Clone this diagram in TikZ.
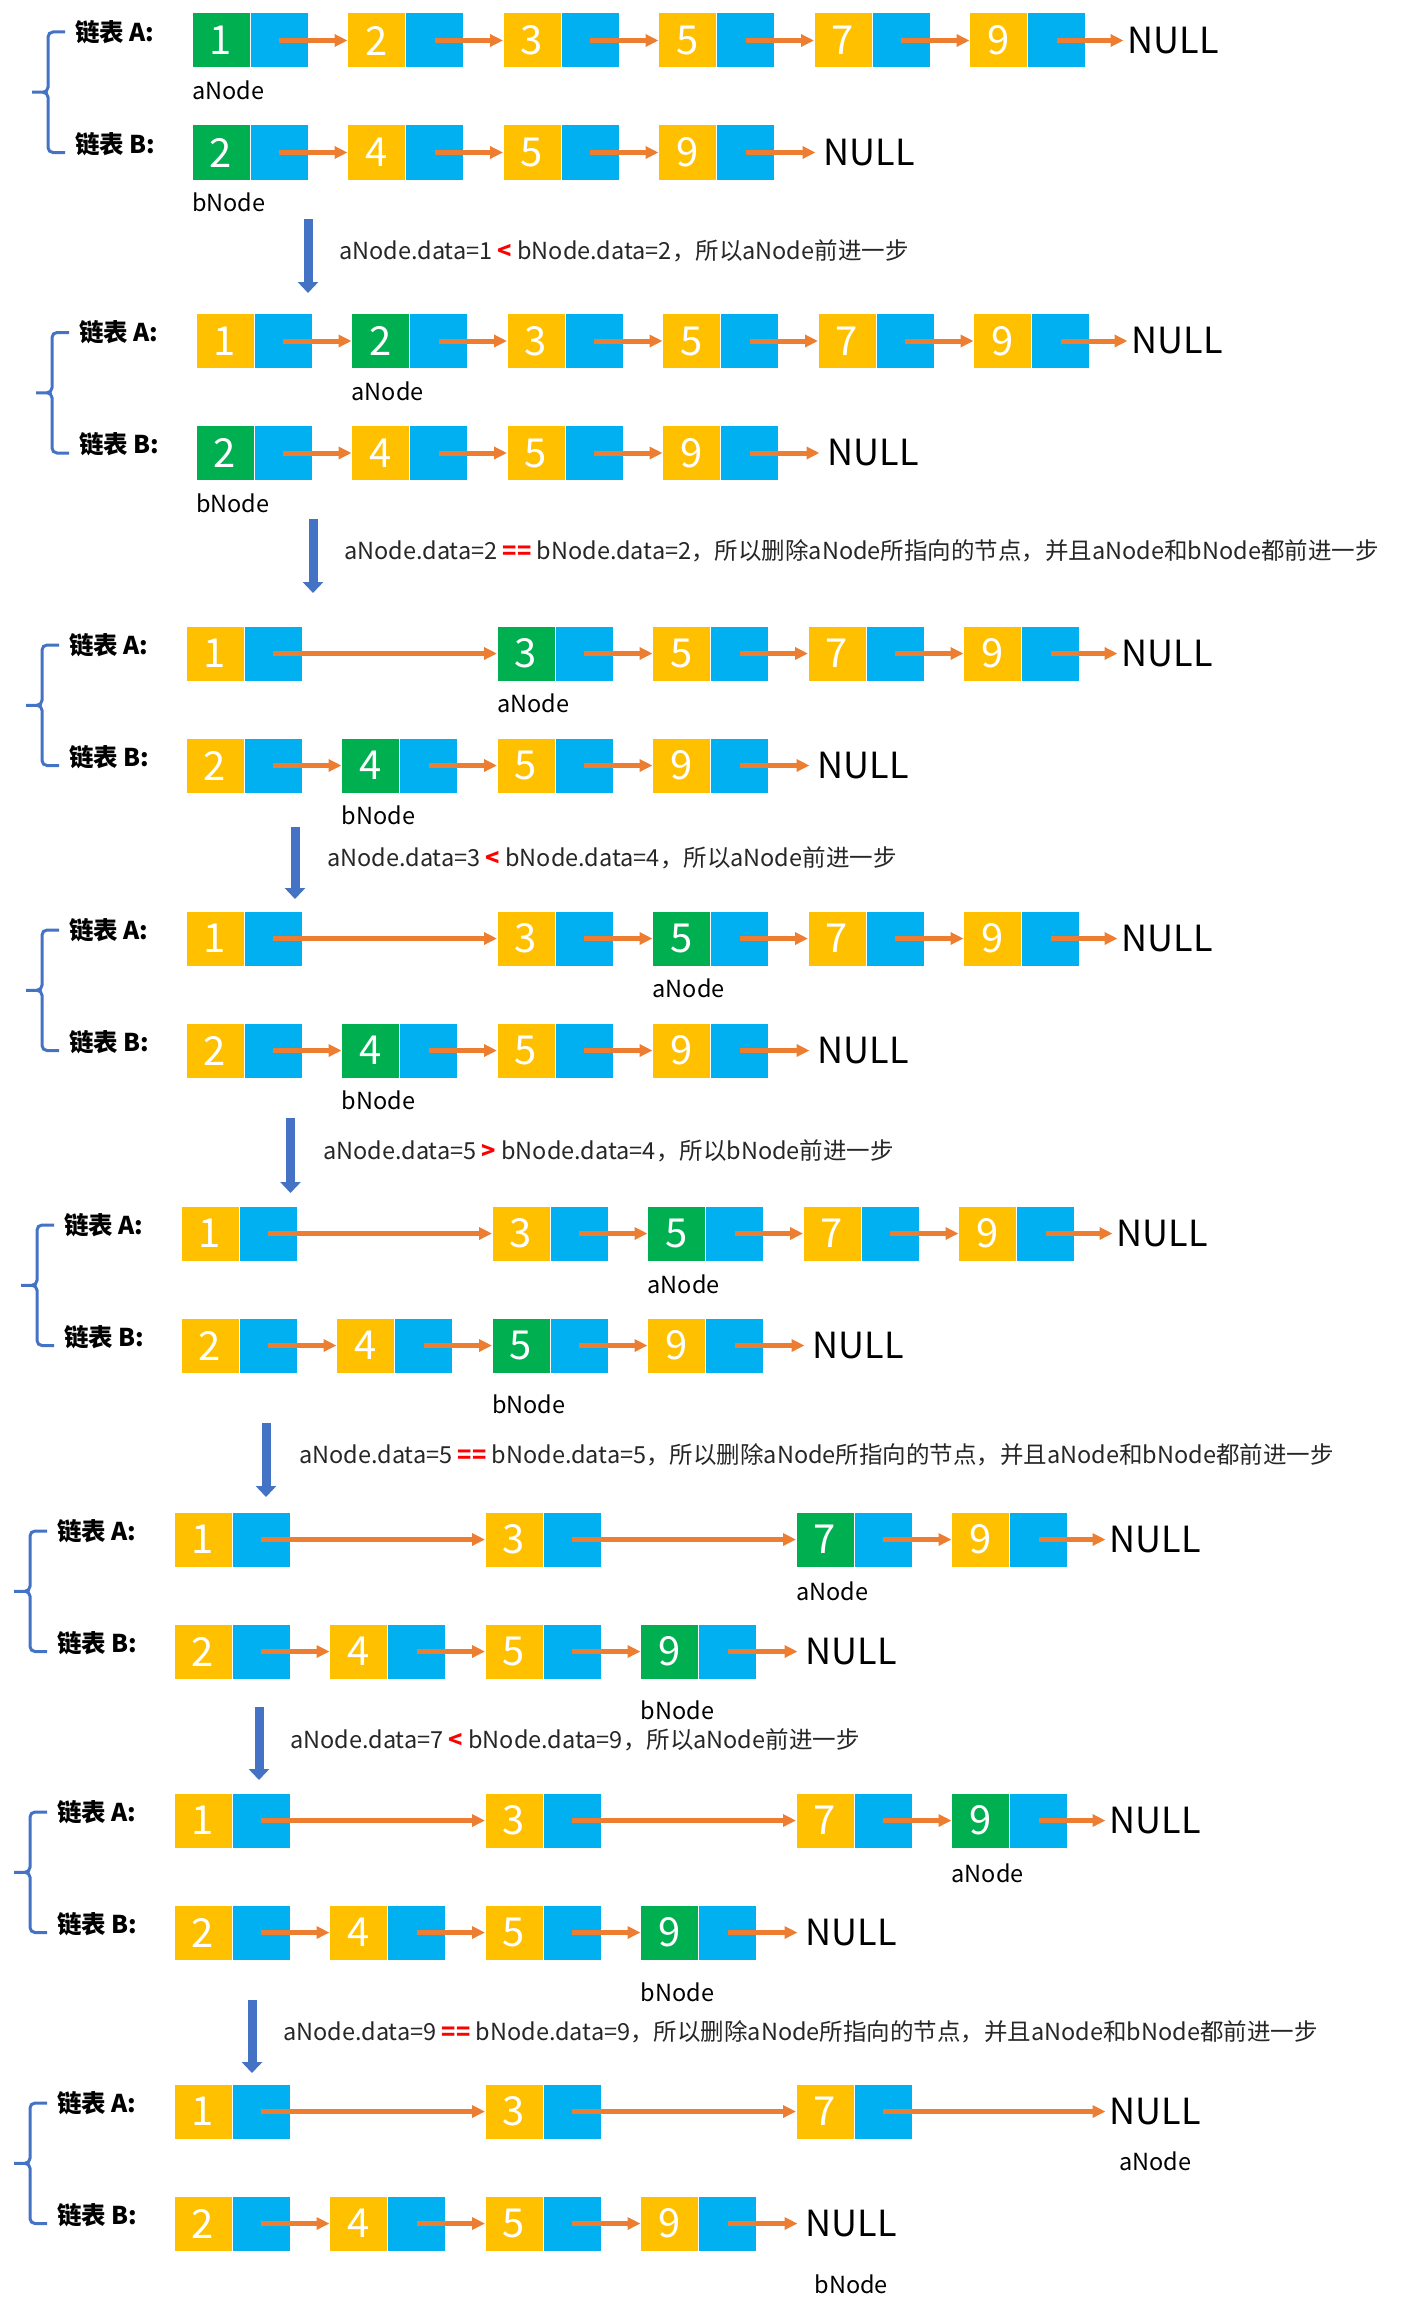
\documentclass[tikz,border=0pt]{standalone}
\usepackage{fontspec}
\setmainfont{Noto Sans CJK SC}
\usepackage{xcolor}
\usepackage{tikz}
\usetikzlibrary{arrows.meta,positioning}
\definecolor{lgreen}{RGB}{0,176,80}
\definecolor{lyellow}{RGB}{255,192,0}
\definecolor{lblue}{RGB}{0,176,240}
\definecolor{lorange}{RGB}{237,125,49}
\definecolor{sblue}{RGB}{68,114,196}

\begin{document}
\begin{tikzpicture}[x=1pt, y=-1pt,
  dat/.style={rectangle, fill=lyellow, draw=white, line width=1pt, minimum width=58pt,
              minimum height=55pt, inner sep=0pt, outer sep=0pt, text=white,
              font=\fontsize{40}{40}\selectfont},
  ptr/.style={dat, fill=lblue},
  link/.style={-{Triangle[length=13pt,width=12pt]}, line width=5pt, lorange},
  nul/.style={inner sep=0pt, font=\fontsize{36}{36}\selectfont},
  tag/.style={inner sep=0pt, font=\fontsize{23.5}{23.5}\selectfont},
  lst/.style={inner sep=0pt, anchor=west, font=\fontsize{24.5}{24.5}\selectfont\bfseries},
  note/.style={inner sep=0pt, anchor=west, text=black!85, font=\fontsize{23.5}{23.5}\selectfont},
  brc/.style={sblue, line width=3pt, rounded corners=5pt},
  down/.style={-{Triangle[length=11pt,width=20pt]}, line width=9pt, sblue}
]
  \useasboundingbox (0,0) rectangle (1419,2312);

  % ---- step 1
  \foreach \i/\v/\c in {0/1/lgreen,1/2/lyellow,2/3/lyellow,3/5/lyellow,4/7/lyellow,5/9/lyellow} {
    \node[dat, fill=\c] (a1-\i) at ({221+155.5*\i},40.5) {\v};
    \node[ptr, right=0pt of a1-\i] (pa1-\i) {};
  }
  \foreach \i/\v/\c in {0/2/lgreen,1/4/lyellow,2/5/lyellow,3/9/lyellow} {
    \node[dat, fill=\c] (b1-\i) at ({221+155.5*\i},152.5) {\v};
    \node[ptr, right=0pt of b1-\i] (pb1-\i) {};
  }
  \foreach \i/\j in {0/1,1/2,2/3,3/4,4/5} \draw[link] (pa1-\i.center) -- (a1-\j.west);
  \foreach \i/\j in {0/1,1/2,2/3} \draw[link] (pb1-\i.center) -- (b1-\j.west);
  \node[nul, right=42pt of pa1-5] (na1) {NULL};
  \node[nul, right=49pt of pb1-3] (nb1) {NULL};
  \draw[link, shorten >=4pt] (pa1-5.center) -- (na1.west);
  \draw[link, shorten >=8pt] (pb1-3.center) -- (nb1.west);
  \node[tag, below right=13pt and 0pt of a1-0.south west] (ta1) {aNode};
  \node[tag, below right=13pt and 0pt of b1-0.south west] (tb1) {bNode};
  \node[lst] (la1) at (75,32) {链表 A:};
  \node[lst] (lb1) at (75,144) {链表 B:};
  \draw[brc] (65,32) -| (48,92.25) -- (32,92.25) (65,152.5) -| (48,92.25) -- (32,92.25);
  \coordinate (s1) at (308,219);
  \coordinate (e1) at (308,293);
  \draw[down] (s1) -- (e1);
  \node[note] (t1) at (339,251) {aNode.data=1 \textcolor{red}{\textbf{<}} bNode.data=2，所以aNode前进一步};

  % ---- step 2
  \foreach \i/\v/\c in {0/1/lyellow,1/2/lgreen,2/3/lyellow,3/5/lyellow,4/7/lyellow,5/9/lyellow} {
    \node[dat, fill=\c] (a2-\i) at ({225+155.5*\i},341) {\v};
    \node[ptr, right=0pt of a2-\i] (pa2-\i) {};
  }
  \foreach \i/\v/\c in {0/2/lgreen,1/4/lyellow,2/5/lyellow,3/9/lyellow} {
    \node[dat, fill=\c] (b2-\i) at ({225+155.5*\i},453) {\v};
    \node[ptr, right=0pt of b2-\i] (pb2-\i) {};
  }
  \foreach \i/\j in {0/1,1/2,2/3,3/4,4/5} \draw[link] (pa2-\i.center) -- (a2-\j.west);
  \foreach \i/\j in {0/1,1/2,2/3} \draw[link] (pb2-\i.center) -- (b2-\j.west);
  \node[nul, right=42pt of pa2-5] (na2) {NULL};
  \node[nul, right=49pt of pb2-3] (nb2) {NULL};
  \draw[link, shorten >=4pt] (pa2-5.center) -- (na2.west);
  \draw[link, shorten >=8pt] (pb2-3.center) -- (nb2.west);
  \node[tag, below right=13pt and 0pt of a2-1.south west] (ta2) {aNode};
  \node[tag, below right=13pt and 0pt of b2-0.south west] (tb2) {bNode};
  \node[lst] (la2) at (79,332.5) {链表 A:};
  \node[lst] (lb2) at (79,444.5) {链表 B:};
  \draw[brc] (69,332.5) -| (52,392.75) -- (36,392.75) (69,453) -| (52,392.75) -- (36,392.75);
  \coordinate (s2) at (313,519);
  \coordinate (e2) at (313,593);
  \draw[down] (s2) -- (e2);
  \node[note] (t2) at (344,551) {aNode.data=2 \textcolor{red}{\textbf{==}} bNode.data=2，所以删除aNode所指向的节点，并且aNode和bNode都前进一步};

  % ---- step 3
  \foreach \i/\v/\c in {0/1/lyellow,2/3/lgreen,3/5/lyellow,4/7/lyellow,5/9/lyellow} {
    \node[dat, fill=\c] (a3-\i) at ({215+155.5*\i},653.5) {\v};
    \node[ptr, right=0pt of a3-\i] (pa3-\i) {};
  }
  \foreach \i/\v/\c in {0/2/lyellow,1/4/lgreen,2/5/lyellow,3/9/lyellow} {
    \node[dat, fill=\c] (b3-\i) at ({215+155.5*\i},765.5) {\v};
    \node[ptr, right=0pt of b3-\i] (pb3-\i) {};
  }
  \foreach \i/\j in {0/2,2/3,3/4,4/5} \draw[link] (pa3-\i.center) -- (a3-\j.west);
  \foreach \i/\j in {0/1,1/2,2/3} \draw[link] (pb3-\i.center) -- (b3-\j.west);
  \node[nul, right=42pt of pa3-5] (na3) {NULL};
  \node[nul, right=49pt of pb3-3] (nb3) {NULL};
  \draw[link, shorten >=4pt] (pa3-5.center) -- (na3.west);
  \draw[link, shorten >=8pt] (pb3-3.center) -- (nb3.west);
  \node[tag, below right=13pt and 0pt of a3-2.south west] (ta3) {aNode};
  \node[tag, below right=13pt and 0pt of b3-1.south west] (tb3) {bNode};
  \node[lst] (la3) at (69,645) {链表 A:};
  \node[lst] (lb3) at (69,757) {链表 B:};
  \draw[brc] (59,645) -| (42,705.25) -- (26,705.25) (59,765.5) -| (42,705.25) -- (26,705.25);
  \coordinate (s3) at (295,827);
  \coordinate (e3) at (295,899);
  \draw[down] (s3) -- (e3);
  \node[note] (t3) at (327,858) {aNode.data=3 \textcolor{red}{\textbf{<}} bNode.data=4，所以aNode前进一步};

  % ---- step 4
  \foreach \i/\v/\c in {0/1/lyellow,2/3/lyellow,3/5/lgreen,4/7/lyellow,5/9/lyellow} {
    \node[dat, fill=\c] (a4-\i) at ({215+155.5*\i},938.5) {\v};
    \node[ptr, right=0pt of a4-\i] (pa4-\i) {};
  }
  \foreach \i/\v/\c in {0/2/lyellow,1/4/lgreen,2/5/lyellow,3/9/lyellow} {
    \node[dat, fill=\c] (b4-\i) at ({215+155.5*\i},1050.5) {\v};
    \node[ptr, right=0pt of b4-\i] (pb4-\i) {};
  }
  \foreach \i/\j in {0/2,2/3,3/4,4/5} \draw[link] (pa4-\i.center) -- (a4-\j.west);
  \foreach \i/\j in {0/1,1/2,2/3} \draw[link] (pb4-\i.center) -- (b4-\j.west);
  \node[nul, right=42pt of pa4-5] (na4) {NULL};
  \node[nul, right=49pt of pb4-3] (nb4) {NULL};
  \draw[link, shorten >=4pt] (pa4-5.center) -- (na4.west);
  \draw[link, shorten >=8pt] (pb4-3.center) -- (nb4.west);
  \node[tag, below right=13pt and 0pt of a4-3.south west] (ta4) {aNode};
  \node[tag, below right=13pt and 0pt of b4-1.south west] (tb4) {bNode};
  \node[lst] (la4) at (69,930) {链表 A:};
  \node[lst] (lb4) at (69,1042) {链表 B:};
  \draw[brc] (59,930) -| (42,990.25) -- (26,990.25) (59,1050.5) -| (42,990.25) -- (26,990.25);
  \coordinate (s4) at (290.5,1118);
  \coordinate (e4) at (290.5,1193);
  \draw[down] (s4) -- (e4);
  \node[note] (t4) at (323,1151) {aNode.data=5 \textcolor{red}{\textbf{>}} bNode.data=4，所以bNode前进一步};

  % ---- step 5
  \foreach \i/\v/\c in {0/1/lyellow,2/3/lyellow,3/5/lgreen,4/7/lyellow,5/9/lyellow} {
    \node[dat, fill=\c] (a5-\i) at ({210+155.5*\i},1233.5) {\v};
    \node[ptr, right=0pt of a5-\i] (pa5-\i) {};
  }
  \foreach \i/\v/\c in {0/2/lyellow,1/4/lyellow,2/5/lgreen,3/9/lyellow} {
    \node[dat, fill=\c] (b5-\i) at ({210+155.5*\i},1345.5) {\v};
    \node[ptr, right=0pt of b5-\i] (pb5-\i) {};
  }
  \foreach \i/\j in {0/2,2/3,3/4,4/5} \draw[link] (pa5-\i.center) -- (a5-\j.west);
  \foreach \i/\j in {0/1,1/2,2/3} \draw[link] (pb5-\i.center) -- (b5-\j.west);
  \node[nul, right=42pt of pa5-5] (na5) {NULL};
  \node[nul, right=49pt of pb5-3] (nb5) {NULL};
  \draw[link, shorten >=4pt] (pa5-5.center) -- (na5.west);
  \draw[link, shorten >=8pt] (pb5-3.center) -- (nb5.west);
  \node[tag, below right=14pt and 0pt of a5-3.south west] (ta5) {aNode};
  \node[tag, below right=22pt and 0pt of b5-2.south west] (tb5) {bNode};
  \node[lst] (la5) at (64,1225) {链表 A:};
  \node[lst] (lb5) at (64,1337) {链表 B:};
  \draw[brc] (54,1225) -| (37,1285.25) -- (21,1285.25) (54,1345.5) -| (37,1285.25) -- (21,1285.25);
  \coordinate (s5) at (266,1423);
  \coordinate (e5) at (266,1497);
  \draw[down] (s5) -- (e5);
  \node[note] (t5) at (299,1455) {aNode.data=5 \textcolor{red}{\textbf{==}} bNode.data=5，所以删除aNode所指向的节点，并且aNode和bNode都前进一步};

  % ---- step 6
  \foreach \i/\v/\c in {0/1/lyellow,2/3/lyellow,4/7/lgreen,5/9/lyellow} {
    \node[dat, fill=\c] (a6-\i) at ({203+155.5*\i},1539.5) {\v};
    \node[ptr, right=0pt of a6-\i] (pa6-\i) {};
  }
  \foreach \i/\v/\c in {0/2/lyellow,1/4/lyellow,2/5/lyellow,3/9/lgreen} {
    \node[dat, fill=\c] (b6-\i) at ({203+155.5*\i},1651.5) {\v};
    \node[ptr, right=0pt of b6-\i] (pb6-\i) {};
  }
  \foreach \i/\j in {0/2,2/4,4/5} \draw[link] (pa6-\i.center) -- (a6-\j.west);
  \foreach \i/\j in {0/1,1/2,2/3} \draw[link] (pb6-\i.center) -- (b6-\j.west);
  \node[nul, right=42pt of pa6-5] (na6) {NULL};
  \node[nul, right=49pt of pb6-3] (nb6) {NULL};
  \draw[link, shorten >=4pt] (pa6-5.center) -- (na6.west);
  \draw[link, shorten >=8pt] (pb6-3.center) -- (nb6.west);
  \node[tag, below right=15pt and 0pt of a6-4.south west] (ta6) {aNode};
  \node[tag, below right=22pt and 0pt of b6-3.south west] (tb6) {bNode};
  \node[lst] (la6) at (57,1531) {链表 A:};
  \node[lst] (lb6) at (57,1643) {链表 B:};
  \draw[brc] (47,1531) -| (30,1591.25) -- (14,1591.25) (47,1651.5) -| (30,1591.25) -- (14,1591.25);
  \coordinate (s6) at (259,1707);
  \coordinate (e6) at (259,1780);
  \draw[down] (s6) -- (e6);
  \node[note] (t6) at (290,1740) {aNode.data=7 \textcolor{red}{\textbf{<}} bNode.data=9，所以aNode前进一步};

  % ---- step 7
  \foreach \i/\v/\c in {0/1/lyellow,2/3/lyellow,4/7/lyellow,5/9/lgreen} {
    \node[dat, fill=\c] (a7-\i) at ({203+155.5*\i},1820.5) {\v};
    \node[ptr, right=0pt of a7-\i] (pa7-\i) {};
  }
  \foreach \i/\v/\c in {0/2/lyellow,1/4/lyellow,2/5/lyellow,3/9/lgreen} {
    \node[dat, fill=\c] (b7-\i) at ({203+155.5*\i},1932.5) {\v};
    \node[ptr, right=0pt of b7-\i] (pb7-\i) {};
  }
  \foreach \i/\j in {0/2,2/4,4/5} \draw[link] (pa7-\i.center) -- (a7-\j.west);
  \foreach \i/\j in {0/1,1/2,2/3} \draw[link] (pb7-\i.center) -- (b7-\j.west);
  \node[nul, right=42pt of pa7-5] (na7) {NULL};
  \node[nul, right=49pt of pb7-3] (nb7) {NULL};
  \draw[link, shorten >=4pt] (pa7-5.center) -- (na7.west);
  \draw[link, shorten >=8pt] (pb7-3.center) -- (nb7.west);
  \node[tag, below right=16pt and 0pt of a7-5.south west] (ta7) {aNode};
  \node[tag, below right=23pt and 0pt of b7-3.south west] (tb7) {bNode};
  \node[lst] (la7) at (57,1812) {链表 A:};
  \node[lst] (lb7) at (57,1924) {链表 B:};
  \draw[brc] (47,1812) -| (30,1872.25) -- (14,1872.25) (47,1932.5) -| (30,1872.25) -- (14,1872.25);
  \coordinate (s7) at (252,2000);
  \coordinate (e7) at (252,2073);
  \draw[down] (s7) -- (e7);
  \node[note] (t7) at (283,2032) {aNode.data=9 \textcolor{red}{\textbf{==}} bNode.data=9，所以删除aNode所指向的节点，并且aNode和bNode都前进一步};

  % ---- step 8
  \foreach \i/\v/\c in {0/1/lyellow,2/3/lyellow,4/7/lyellow} {
    \node[dat, fill=\c] (a8-\i) at ({203+155.5*\i},2111.5) {\v};
    \node[ptr, right=0pt of a8-\i] (pa8-\i) {};
  }
  \foreach \i/\v/\c in {0/2/lyellow,1/4/lyellow,2/5/lyellow,3/9/lyellow} {
    \node[dat, fill=\c] (b8-\i) at ({203+155.5*\i},2223.5) {\v};
    \node[ptr, right=0pt of b8-\i] (pb8-\i) {};
  }
  \foreach \i/\j in {0/2,2/4} \draw[link] (pa8-\i.center) -- (a8-\j.west);
  \foreach \i/\j in {0/1,1/2,2/3} \draw[link] (pb8-\i.center) -- (b8-\j.west);
  \node[nul, right=197.5pt of pa8-4] (na8) {NULL};
  \node[nul, right=49pt of pb8-3] (nb8) {NULL};
  \draw[link, shorten >=4pt] (pa8-4.center) -- (na8.west);
  \draw[link, shorten >=8pt] (pb8-3.center) -- (nb8.west);
  \node[tag, below=26pt of na8] (ta8) {aNode};
  \node[tag, below=37pt of nb8] (tb8) {bNode};
  \node[lst] (la8) at (57,2103) {链表 A:};
  \node[lst] (lb8) at (57,2215) {链表 B:};
  \draw[brc] (47,2103) -| (30,2163.25) -- (14,2163.25) (47,2223.5) -| (30,2163.25) -- (14,2163.25);
\end{tikzpicture}
\end{document}
